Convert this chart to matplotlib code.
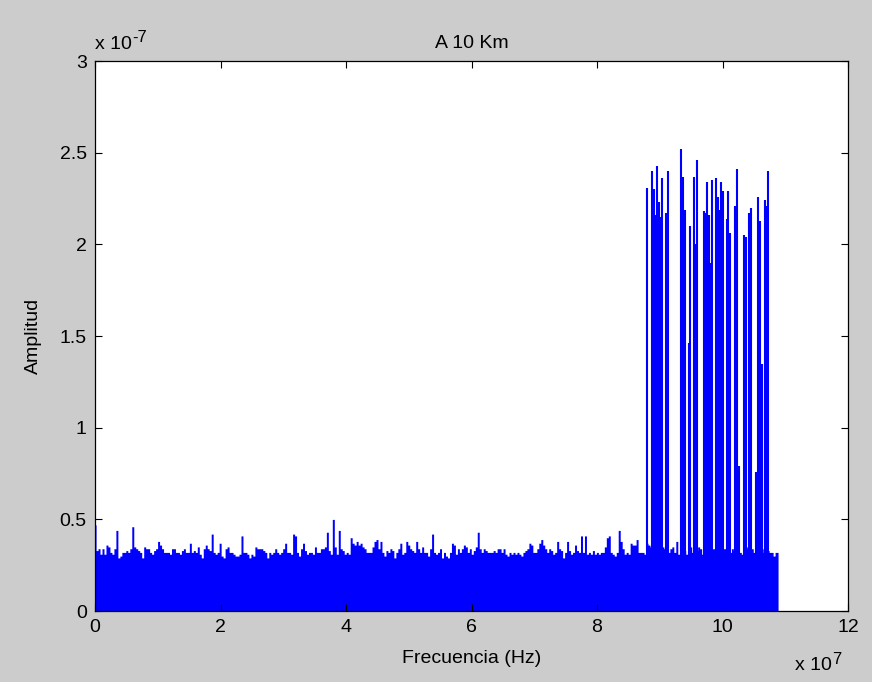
import numpy as np
import matplotlib.pyplot as plt

plt.rcParams['font.family'] = ['Liberation Sans', 'DejaVu Sans']

# spectrum noise floor, amplitude in units of 1e-7, sampled across 0 .. 10.885e7 Hz
noise_amp = [
    # 0 - 1.8e7
    0.47, 0.33, 0.34, 0.31, 0.34, 0.31, 0.36, 0.35, 0.32, 0.31, 0.34, 0.44, 0.29, 0.30, 0.32,
    0.32, 0.33, 0.32, 0.34, 0.46, 0.35, 0.34, 0.33, 0.32, 0.29, 0.35, 0.34, 0.34, 0.32, 0.31,
    0.33, 0.34, 0.38, 0.36, 0.34, 0.32, 0.32, 0.32, 0.31, 0.34, 0.34, 0.32, 0.32, 0.31, 0.33,
    0.34, 0.32, 0.32, 0.37, 0.32, 0.33, 0.32, 0.35, 0.31, 0.29, 0.34, 0.36,
    # 1.8 - 3.6e7
    0.34, 0.33, 0.42, 0.32, 0.31, 0.32, 0.37, 0.30, 0.29, 0.34, 0.35, 0.32, 0.32, 0.31, 0.30,
    0.30, 0.31, 0.41, 0.32, 0.32, 0.31, 0.29, 0.31, 0.30, 0.35, 0.34, 0.34, 0.34, 0.33, 0.32,
    0.29, 0.32, 0.31, 0.32, 0.34, 0.32, 0.31, 0.32, 0.34, 0.37, 0.32, 0.32, 0.31, 0.42, 0.41,
    0.32, 0.30, 0.34, 0.37, 0.33, 0.31, 0.32, 0.32, 0.31, 0.35, 0.32, 0.32, 0.34,
    # 3.6 - 5.5e7
    0.34, 0.35, 0.43, 0.33, 0.31, 0.50, 0.35, 0.31, 0.44, 0.34, 0.33, 0.31, 0.32, 0.31, 0.40,
    0.37, 0.36, 0.38, 0.36, 0.37, 0.35, 0.34, 0.32, 0.32, 0.32, 0.35, 0.38, 0.39, 0.34, 0.38,
    0.32, 0.30, 0.33, 0.32, 0.34, 0.33, 0.29, 0.32, 0.34, 0.37, 0.31, 0.32, 0.38, 0.36, 0.34,
    0.33, 0.32, 0.38, 0.34, 0.32, 0.35, 0.32, 0.32, 0.30, 0.34, 0.42, 0.32, 0.31,
    # 5.5 - 7.3e7
    0.32, 0.34, 0.29, 0.32, 0.30, 0.29, 0.32, 0.37, 0.36, 0.31, 0.34, 0.32, 0.34, 0.36, 0.35,
    0.32, 0.34, 0.31, 0.33, 0.35, 0.43, 0.34, 0.32, 0.34, 0.33, 0.32, 0.32, 0.32, 0.33, 0.32,
    0.34, 0.34, 0.32, 0.34, 0.31, 0.30, 0.32, 0.31, 0.32, 0.31, 0.32, 0.31, 0.30, 0.32, 0.33,
    0.34, 0.37, 0.36, 0.32, 0.32, 0.34, 0.37, 0.39, 0.36, 0.34, 0.32, 0.34, 0.33,
    # 7.3 - 9.1e7
    0.31, 0.32, 0.38, 0.34, 0.33, 0.29, 0.32, 0.38, 0.33, 0.31, 0.32, 0.36, 0.33, 0.32, 0.41,
    0.32, 0.41, 0.31, 0.32, 0.31, 0.33, 0.31, 0.32, 0.31, 0.32, 0.32, 0.35, 0.40, 0.41, 0.32,
    0.31, 0.30, 0.32, 0.44, 0.38, 0.34, 0.31, 0.32, 0.31, 0.37, 0.36, 0.36, 0.39, 0.32, 0.32,
    0.32, 0.31, 0.37, 0.36, 0.35, 0.34, 0.33, 0.35, 0.34, 0.33, 0.35, 0.34, 0.33,
    # 9.1 - 10.9e7
    0.32, 0.34, 0.35, 0.32, 0.38, 0.31, 0.35, 0.34, 0.33, 0.31, 0.34, 0.35, 0.32, 0.34, 0.33,
    0.35, 0.34, 0.31, 0.34, 0.33, 0.34, 0.32, 0.34, 0.34, 0.33, 0.35, 0.34, 0.32, 0.34, 0.35,
    0.34, 0.32, 0.34, 0.33, 0.34, 0.35, 0.32, 0.31, 0.34, 0.35, 0.34, 0.38, 0.34, 0.32, 0.34,
    0.35, 0.33, 0.34, 0.32, 0.35, 0.33, 0.32, 0.32, 0.30, 0.32, 0.32,
]
f_max = 10.885  # last frequency bin, units of 1e7 Hz

# carrier lines (frequency in 1e7 Hz, amplitude in 1e-7)
carrier_freq = [8.79, 8.87, 8.90, 8.92, 8.96, 8.98, 9.01, 9.04, 9.10, 9.13,
                9.34, 9.37, 9.40, 9.46, 9.48, 9.54, 9.57, 9.60, 9.71, 9.73,
                9.76, 9.79, 9.82, 9.84, 9.90, 9.93, 9.96, 9.98, 10.01, 10.07,
                10.09, 10.12, 10.20, 10.23, 10.26, 10.34, 10.37, 10.42, 10.45, 10.53,
                10.56, 10.59, 10.63, 10.67, 10.71, 10.73]
carrier_amp = [2.31, 2.40, 2.30, 2.16, 2.43, 2.23, 2.15, 2.36, 2.17, 2.40,
               2.52, 2.37, 2.19, 1.46, 2.10, 2.37, 2.00, 2.46, 2.18, 2.17,
               2.34, 2.16, 1.90, 2.35, 2.36, 2.26, 2.19, 2.34, 2.29, 2.14,
               2.29, 2.06, 2.21, 2.41, 0.79, 2.05, 2.04, 2.17, 2.20, 0.76,
               2.26, 2.13, 1.35, 2.24, 2.21, 2.40]

freq = np.linspace(0, f_max, len(noise_amp))
fs = 14

fig = plt.figure(figsize=(8.72, 6.82), dpi=100, facecolor='#cccccc')
ax = fig.add_axes([0.109, 0.104, 0.8635, 0.8065])
ax.set_facecolor('white')

ax.fill_between(freq, 0, noise_amp, step='mid', color='#0000ff', lw=0)
ax.vlines(carrier_freq, 0, carrier_amp, color='#0000ff', lw=1.5)

ax.set_xlim(0, 12)
ax.set_ylim(0, 3)
ax.set_xticks(np.arange(0, 13, 2))
ax.set_yticks(np.arange(0, 3.01, 0.5))
ax.set_yticklabels(['0', '0.5', '1', '1.5', '2', '2.5', '3'])
ax.tick_params(direction='in', length=5, width=0.8, labelsize=fs,
               top=True, right=True, pad=6)
for s in ax.spines.values():
    s.set_linewidth(0.9)

ax.set_title('A 10 Km', fontsize=fs, pad=9.5)
ax.set_xlabel('Frecuencia (Hz)', fontsize=fs, labelpad=10)
ax.set_ylabel('Amplitud', fontsize=fs, labelpad=13)


def exponent_label(x, y, power):
    # "x 10" with a raised plain-hyphen exponent, anchored in axes coordinates
    base = ax.text(x, y, 'x 10', transform=ax.transAxes, fontsize=fs,
                   ha='left', va='baseline')
    ax.annotate(power, xy=(1, 0.45), xycoords=base, xytext=(0.5, 0),
                textcoords='offset points', fontsize=fs - 2,
                ha='left', va='bottom')


exponent_label(0.0, 1.022, '-7')
exponent_label(0.929, -0.108, '7')

fig.savefig('out.png', dpi=100, facecolor=fig.get_facecolor())
